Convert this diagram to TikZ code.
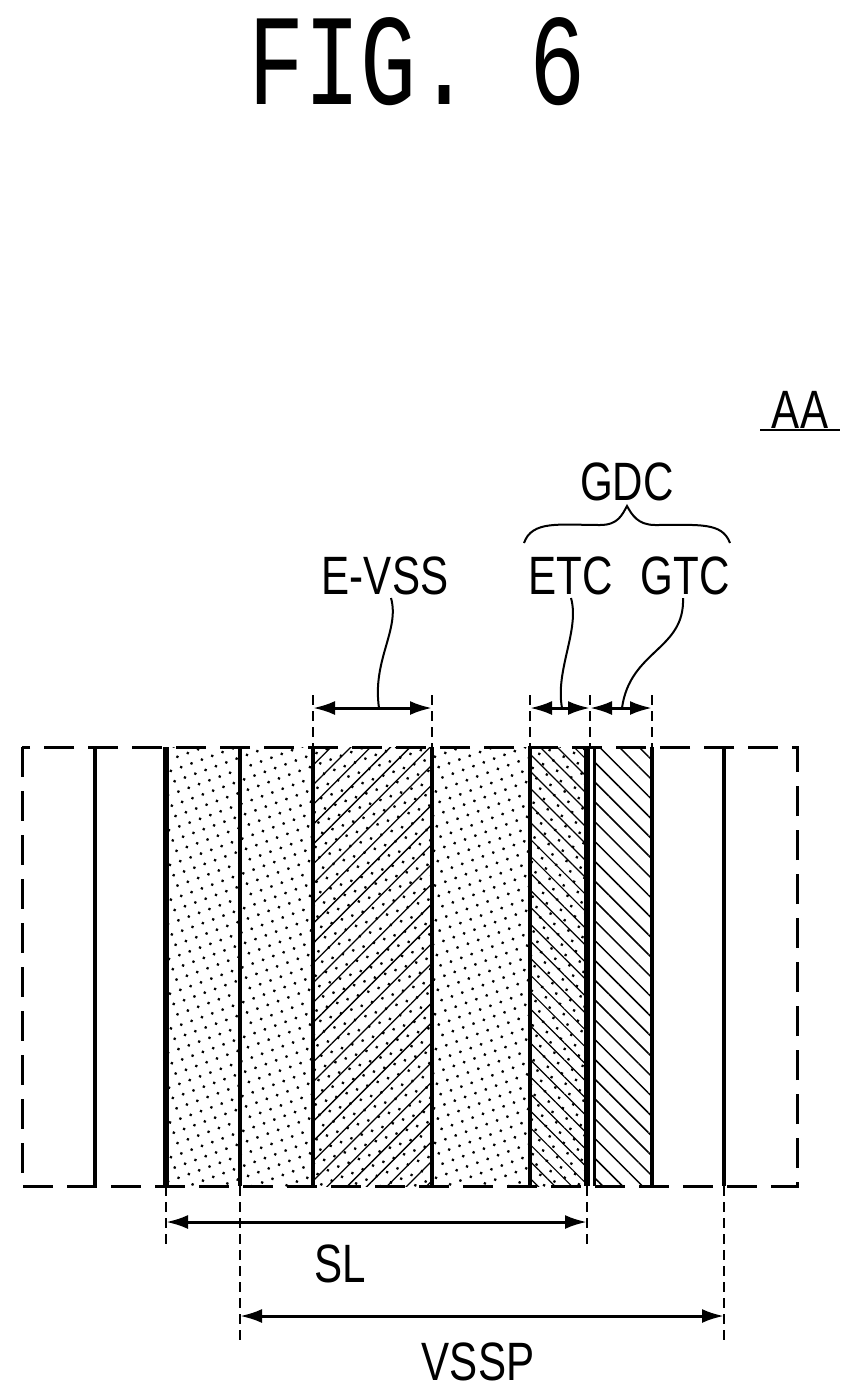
\documentclass[tikz,border=0pt]{standalone}
\usepackage{fontspec}
\setmainfont{Liberation Sans}
\usetikzlibrary{patterns.meta,arrows.meta}
\begin{document}
\begin{tikzpicture}[x=1pt,y=-1pt,
  lbl/.style={font=\fontsize{54}{54}\selectfont,xscale=0.78,inner sep=0},
  dimarr/.style={line width=3pt,{Latex[length=22pt,width=14pt]}-{Latex[length=22pt,width=14pt]}},
  ext/.style={line width=1.5pt,dash pattern=on 10pt off 6pt},
  lead/.style={line width=2pt},
  dotsp/.style={pattern={Dots[radius=1.6pt,distance=11pt,angle=20]}},
  nel/.style={pattern={Lines[angle=45,distance=14pt,line width=1.3pt]}},
  nwl/.style={pattern={Lines[angle=-45,distance=12pt,line width=1.2pt]}}]
\useasboundingbox (0,0) rectangle (863,1395);
% fills
\fill[dotsp] (166,747) rectangle (587,1186);
\fill[nel] (313,747) rectangle (432,1186);
\fill[nwl] (530,747) rectangle (587,1186);
\fill[pattern={Lines[angle=-45,distance=14pt,line width=1.5pt]}] (594,747) rectangle (652,1186);
% outer dashed rectangle
\draw[line width=3pt,dash pattern=on 30pt off 14pt] (22,747) rectangle (797,1186);
% vertical lines
\draw[line width=3.5pt] (95,747)--(95,1186);
\draw[line width=5.5pt] (166,747)--(166,1186);
\draw[line width=4pt] (240,747)--(240,1186);
\draw[line width=4pt] (313,747)--(313,1186);
\draw[line width=4pt] (432,747)--(432,1186);
\draw[line width=4pt] (530,747)--(530,1186);
\draw[line width=5.5pt] (587,747)--(587,1186);
\draw[line width=3pt] (594,747)--(594,1186);
\draw[line width=4pt] (652,747)--(652,1186);
\draw[line width=3.5pt] (724,747)--(724,1186);
% top extension lines and dimensions
\foreach \x in {313,432,530,590,652} \draw[ext] (\x,695)--(\x,747);
\coordinate (ev1) at (313,708); \coordinate (ev2) at (432,708);
\coordinate (et1) at (530,708); \coordinate (et2) at (590,708);
\coordinate (gt2) at (652,708);
\draw[dimarr] (ev1)--(ev2);
\draw[dimarr] (et1)--(et2);
\draw[dimarr] (et2)--(gt2);
% bottom
\draw[ext] (166,1186)--(166,1245);
\draw[ext] (587,1186)--(587,1245);
\draw[ext] (240,1186)--(240,1345);
\draw[ext] (724,1186)--(724,1345);
\coordinate (sl1) at (166,1222); \coordinate (sl2) at (587,1222);
\coordinate (vs1) at (240,1316); \coordinate (vs2) at (724,1316);
\draw[dimarr] (sl1)--(sl2);
\draw[dimarr] (vs1)--(vs2);
% labels
\node[font=\fontspec{Liberation Mono}\fontsize{130}{130}\selectfont,xscale=0.72,inner sep=0] (fig) at (417,62) {FIG. 6};
\node[lbl] (aa) at (800,410) {AA};
\draw[line width=2pt] (760,430)--(840,430);
\node[lbl] (gdc) at (627,482) {GDC};
\node[lbl] (evss) at (385,576) {E-VSS};
\node[lbl] (etc) at (571,576) {ETC};
\node[lbl] (gtc) at (685,576) {GTC};
\node[lbl] (sl) at (340,1264) {SL};
\node[lbl] (vssp) at (478,1362) {VSSP};
% brace
\draw[lead] (524,543) .. controls (532,520) and (560,525) .. (600,525) .. controls (618,525) and (622,515) .. (627,506)
  .. controls (632,515) and (638,525) .. (655,525) .. controls (700,525) and (722,522) .. (730,543);
% leaders
\draw[lead] (391,598) .. controls (400,630) and (372,660) .. (379,708);
\draw[lead] (571,598) .. controls (580,630) and (555,670) .. (562,708);
\draw[lead] (683,598) .. controls (685,650) and (630,650) .. (622,708);
\end{tikzpicture}
\end{document}
